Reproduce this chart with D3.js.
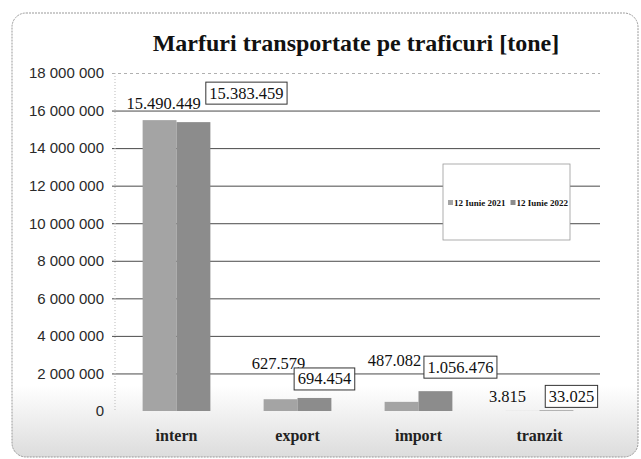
<!DOCTYPE html>
<html>
<head>
<meta charset="utf-8">
<script src="https://cdn.jsdelivr.net/npm/d3@7"></script>
<style>
  body { margin: 0; background: #fff; }
  svg { display: block; }
</style>
</head>
<body>
<svg id="chart" width="641" height="459"></svg>
<script>
var width = 641, height = 459

// data
var categories = ['intern', 'export', 'import', 'tranzit']
var seriesNames = ['12 Iunie 2021', '12 Iunie 2022']
var values2021 = [15490449, 627579, 487082, 3815]
var values2022 = [15383459, 694454, 1056476, 33025]
var yTicks = [0, 2000000, 4000000, 6000000, 8000000, 10000000, 12000000, 14000000, 16000000, 18000000]

// label nudges (px, relative to top centre of each bar) - the labels were dragged by hand in the original
var nudge2021 = [[4, -17], [-2, -36], [-7, -41], [-15, -14]]
var nudge2022 = [[53, -29], [10, -19], [25, -24], [15, -14]]

var colors = ['#a4a4a4', '#8c8c8c']
var serif = "'Liberation Serif', 'Times New Roman', serif"
var sans = "'Liberation Sans', Arial, sans-serif"

var svg = d3.select('svg#chart')

// background with the grey fade at the bottom
var defs = svg.append('defs')
var grad = defs.append('linearGradient').attr('id', 'bg')
  .attr('x1', 0).attr('y1', 0).attr('x2', 0).attr('y2', 1)
grad.append('stop').attr('offset', '0.84').attr('stop-color', '#ffffff')
grad.append('stop').attr('offset', '1').attr('stop-color', '#dcdcdc')

svg.append('rect')
  .attr('x', 12).attr('y', 13).attr('width', 626).attr('height', 444)
  .attr('rx', 14)
  .attr('fill', 'url(#bg)')
  .attr('stroke', '#999').attr('stroke-width', 1)
  .attr('stroke-dasharray', '2,1')

var x = d3.scaleBand().domain(categories).range([116, 600])
  .paddingInner(0.44).paddingOuter(0.22)
var xInner = d3.scaleBand().domain([0, 1]).range([0, x.bandwidth()])
var y = d3.scaleLinear().domain([0, 18000000]).range([411, 73])

var fmtAxis = function(d) { return d3.format(',')(d).replace(/,/g, ' ') }
var fmtLabel = function(d) { return d3.format(',')(d).replace(/,/g, '.') }

// gridlines
var yAxis = d3.axisLeft(y).tickValues(yTicks).tickSize(-(600 - 112)).tickFormat(fmtAxis).tickPadding(8)
var ga = svg.append('g').attr('transform', 'translate(112,0)').call(yAxis)
ga.select('.domain').remove()
ga.selectAll('.tick line')
  .attr('stroke', function(d) { return d == 18000000 ? '#b0b0b0' : '#4a4a4a' })
  .attr('stroke-dasharray', function(d) { return d == 18000000 ? '3,3' : null })
ga.selectAll('.tick line').filter(function(d) { return d == 0 }).remove()
ga.selectAll('.tick text')
  .attr('x', -8)
  .style('font-family', sans).style('font-size', '15px').attr('fill', '#2a2a2a')

// faint vertical axis
svg.append('line')
  .attr('x1', 115).attr('x2', 115).attr('y1', y(18000000)).attr('y2', y(0))
  .attr('stroke', '#bbb').attr('stroke-dasharray', '1,2')

// bars
var series = [values2021, values2022]
series.forEach(function(vals, s) {
  svg.append('g').selectAll('rect')
    .data(vals)
    .enter().append('rect')
    .attr('x', function(d, i) { return x(categories[i]) + xInner(s) })
    .attr('width', xInner.bandwidth())
    .attr('y', function(d) { return y(d) })
    .attr('height', function(d) { return y(0) - y(d) })
    .attr('fill', colors[s])
})

// 2021 labels, plain text
svg.append('g').selectAll('text')
  .data(values2021)
  .enter().append('text')
  .attr('x', function(d, i) { return x(categories[i]) + xInner(0) + xInner.bandwidth() / 2 + nudge2021[i][0] })
  .attr('y', function(d, i) { return y(d) + nudge2021[i][1] })
  .attr('text-anchor', 'middle').attr('dominant-baseline', 'central')
  .style('font-family', serif).style('font-size', '16.5px').attr('fill', '#111')
  .text(function(d) { return fmtLabel(d) })

// 2022 labels, boxed
var lab22 = svg.append('g').selectAll('g')
  .data(values2022)
  .enter().append('g')
  .attr('transform', function(d, i) {
    var cx = x(categories[i]) + xInner(1) + xInner.bandwidth() / 2 + nudge2022[i][0]
    var cy = y(d) + nudge2022[i][1]
    return 'translate(' + cx + ',' + cy + ')'
  })
lab22.each(function(d) {
  var g = d3.select(this)
  var t = g.append('text')
    .attr('text-anchor', 'middle').attr('dominant-baseline', 'central')
    .style('font-family', serif).style('font-size', '16.5px').attr('fill', '#111')
    .text(fmtLabel(d))
  var w = t.node().getComputedTextLength() + 7
  g.insert('rect', 'text')
    .attr('x', -w / 2).attr('y', -11).attr('width', w).attr('height', 22)
    .attr('fill', '#fff').attr('stroke', '#333').attr('stroke-width', 1)
})

// category labels
svg.append('g').selectAll('text')
  .data(categories)
  .enter().append('text')
  .attr('x', function(d) { return x(d) + x.bandwidth() / 2 })
  .attr('y', 441)
  .attr('text-anchor', 'middle')
  .style('font-family', serif).style('font-size', '16px').style('font-weight', 'bold')
  .attr('fill', '#222')
  .text(function(d) { return d })

// title
svg.append('text')
  .attr('x', 356).attr('y', 51)
  .attr('text-anchor', 'middle')
  .style('font-family', serif).style('font-size', '24px').style('font-weight', 'bold')
  .attr('fill', '#111')
  .text('Marfuri transportate pe traficuri [tone]')

// legend
var lg = svg.append('g').attr('transform', 'translate(443,164)')
lg.append('rect').attr('width', 127).attr('height', 76)
  .attr('fill', '#fff').attr('stroke', '#999').attr('stroke-width', 0.8)
var lx = 5
seriesNames.forEach(function(name, s) {
  lg.append('rect').attr('x', lx).attr('y', 36).attr('width', 5).attr('height', 5).attr('fill', colors[s])
  var t = lg.append('text').attr('x', lx + 6).attr('y', 41.5)
    .style('font-family', serif).style('font-size', '9px').style('font-weight', 'bold')
    .attr('fill', '#111')
    .text(name)
  lx += 6 + t.node().getComputedTextLength() + 5
})
</script>
</body>
</html>
